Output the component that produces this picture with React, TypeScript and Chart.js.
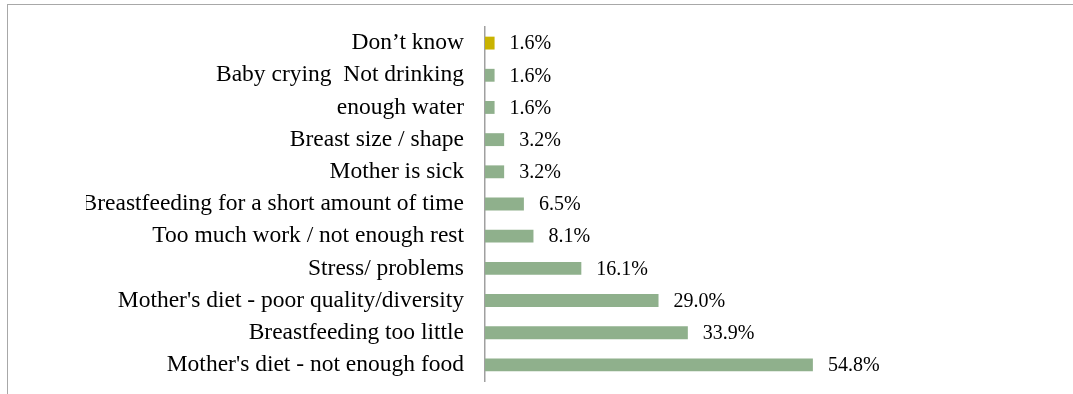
import React, { useEffect, useRef } from "react";
import { Chart, registerables } from "chart.js";

Chart.register(...registerables);

const categories: string[] = [
  "Don\u2019t know",
  "Baby crying  Not drinking",
  "enough water",
  "Breast size / shape",
  "Mother is sick",
  "Breastfeeding for a short amount of time",
  "Too much work / not enough rest",
  "Stress/ problems",
  "Mother's diet - poor quality/diversity",
  "Breastfeeding too little",
  "Mother's diet - not enough food",
];

const values: number[] = [1.6, 1.6, 1.6, 3.2, 3.2, 6.5, 8.1, 16.1, 29.0, 33.9, 54.8];

const barColors: string[] = [
  "#c9b300",
  "#8fb08c",
  "#8fb08c",
  "#8fb08c",
  "#8fb08c",
  "#8fb08c",
  "#8fb08c",
  "#8fb08c",
  "#8fb08c",
  "#8fb08c",
  "#8fb08c",
];

const W = 1073;
const H = 394;
const CLIP_LEFT = 86;
const AXIS_X = 485;

export default function App() {
  const ref = useRef<HTMLCanvasElement | null>(null);

  useEffect(() => {
    document.body.style.margin = "0";
    const canvas = ref.current;
    if (!canvas) return;

    const clipPlugin = {
      id: "clipLeft",
      beforeDraw(chart: any) {
        const ctx = chart.ctx;
        ctx.save();
        ctx.beginPath();
        ctx.rect(CLIP_LEFT, 0, chart.width - CLIP_LEFT, chart.height);
        ctx.clip();
      },
      afterDraw(chart: any) {
        chart.ctx.restore();
      },
    };

    const labelPlugin = {
      id: "barLabels",
      afterDatasetsDraw(chart: any) {
        const ctx = chart.ctx;
        const meta = chart.getDatasetMeta(0);
        ctx.save();
        ctx.font = "20px 'Liberation Serif', 'Times New Roman', serif";
        ctx.fillStyle = "#000000";
        ctx.textAlign = "left";
        ctx.textBaseline = "middle";
        meta.data.forEach((bar: any, i: number) => {
          ctx.fillText(values[i].toFixed(1) + "%", bar.x + 15, bar.y + 1);
        });
        ctx.restore();
      },
    };

    const chart = new Chart(canvas, {
      type: "bar",
      data: {
        labels: categories,
        datasets: [
          {
            data: values,
            backgroundColor: barColors,
            borderWidth: 0,
            barPercentage: 0.4,
            categoryPercentage: 1,
          },
        ],
      },
      options: {
        indexAxis: "y",
        responsive: false,
        animation: false,
        events: [],
        layout: {
          padding: { left: CLIP_LEFT, right: W - 844, top: 27, bottom: H - 381 },
        },
        plugins: {
          legend: { display: false },
          tooltip: { enabled: false },
          title: { display: false },
        },
        scales: {
          x: {
            type: "linear",
            min: 0,
            max: 60,
            display: false,
          },
          y: {
            type: "category",
            grid: { display: false, drawTicks: false },
            border: { display: true, color: "#a0a0a0", width: 1.5 },
            ticks: {
              autoSkip: false,
              color: "#000000",
              padding: 21,
              font: { family: "'Liberation Serif', 'Times New Roman', serif", size: 23.5 },
            },
            afterFit(scale: any) {
              scale.width = AXIS_X - CLIP_LEFT;
              scale.paddingTop = 0;
              scale.paddingBottom = 0;
            },
          },
        },
      },
      plugins: [clipPlugin, labelPlugin],
    });

    return () => {
      chart.destroy();
    };
  }, []);

  return (
    <div style={{ position: "relative", width: W, height: H, overflow: "hidden", background: "#ffffff" }}>
      <canvas ref={ref} width={W} height={H} style={{ position: "absolute", left: 0, top: 0 }} />
      <div
        style={{
          position: "absolute",
          left: 7,
          top: 4,
          width: W,
          height: H,
          borderTop: "1.5px solid #a8a8a8",
          borderLeft: "1.5px solid #a8a8a8",
          pointerEvents: "none",
        }}
      />
    </div>
  );
}
